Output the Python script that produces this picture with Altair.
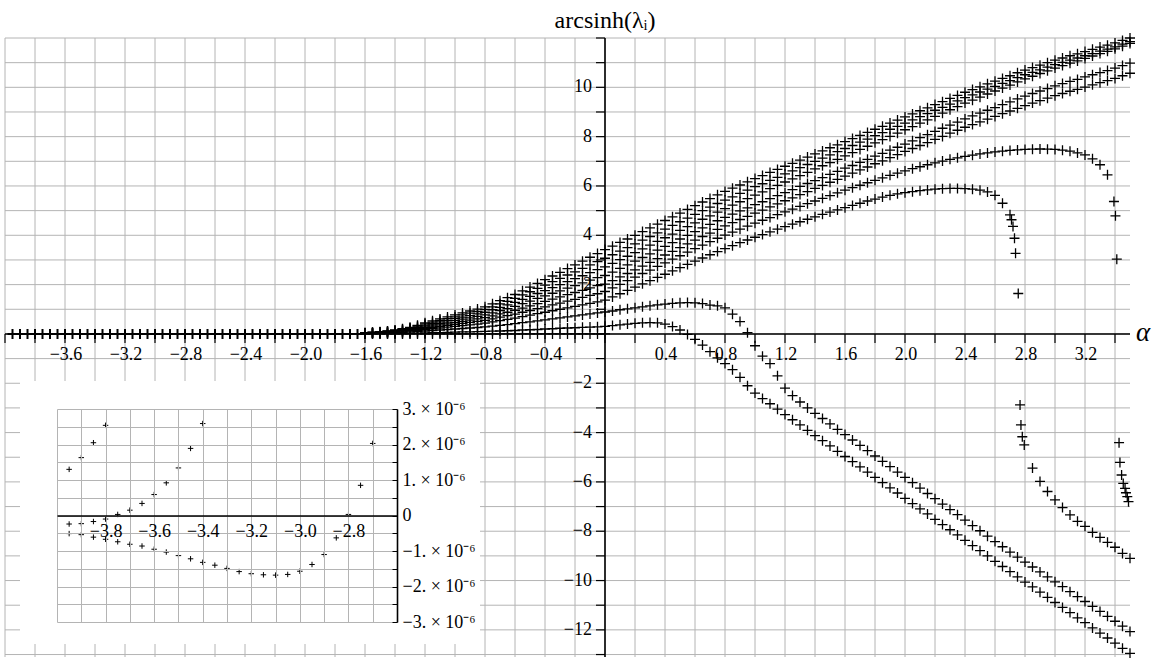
import altair as alt
import pandas as pd

# ---------------------------------------------------------------- main data
# sampling grid for the fanning-out part of the spectrum
ALPHA = [
    -1.60, -1.55, -1.50, -1.45, -1.40, -1.35, -1.30, -1.25, -1.20, -1.15,
    -1.10, -1.05, -1.00, -0.95, -0.90, -0.85, -0.80, -0.75, -0.70, -0.65,
    -0.60, -0.55, -0.50, -0.45, -0.40, -0.35, -0.30, -0.25, -0.20, -0.15,
    -0.10, -0.05, 0.00, 0.05, 0.10, 0.15, 0.20, 0.25, 0.30, 0.35,
    0.40, 0.45, 0.50, 0.55, 0.60, 0.65, 0.70, 0.75, 0.80, 0.85,
    0.90, 0.95, 1.00, 1.05, 1.10, 1.15, 1.20, 1.25, 1.30, 1.35,
    1.40, 1.45, 1.50, 1.55, 1.60, 1.65, 1.70, 1.75, 1.80, 1.85,
    1.90, 1.95, 2.00, 2.05, 2.10, 2.15, 2.20, 2.25, 2.30, 2.35,
    2.40, 2.45, 2.50, 2.55, 2.60, 2.65, 2.70, 2.75, 2.80, 2.85,
    2.90, 2.95, 3.00, 3.05, 3.10, 3.15, 3.20, 3.25, 3.30, 3.35,
    3.40, 3.45, 3.50,
]

# upper trio of growing branches
LAMBDA_1 = [
    0.05, 0.07, 0.09, 0.12, 0.16, 0.21, 0.27, 0.35, 0.45, 0.53,
    0.61, 0.69, 0.77, 0.85, 0.93, 1.01, 1.10, 1.22, 1.35, 1.47,
    1.60, 1.75, 1.90, 2.05, 2.20, 2.35, 2.50, 2.65, 2.80, 2.95,
    3.11, 3.26, 3.42, 3.56, 3.71, 3.85, 4.00, 4.15, 4.30, 4.45,
    4.60, 4.75, 4.90, 5.05, 5.20, 5.35, 5.49, 5.64, 5.78, 5.91,
    6.04, 6.17, 6.30, 6.42, 6.55, 6.67, 6.80, 6.92, 7.05, 7.17,
    7.30, 7.42, 7.55, 7.67, 7.80, 7.92, 8.05, 8.17, 8.30, 8.42,
    8.55, 8.67, 8.80, 8.92, 9.05, 9.17, 9.30, 9.42, 9.55, 9.67,
    9.80, 9.91, 10.02, 10.14, 10.25, 10.36, 10.47, 10.59, 10.70, 10.80,
    10.90, 11.00, 11.10, 11.19, 11.28, 11.36, 11.45, 11.54, 11.63, 11.71,
    11.80, 11.90, 12.00,
]
LAMBDA_2 = [
    0.05, 0.06, 0.08, 0.11, 0.14, 0.19, 0.24, 0.32, 0.41, 0.48,
    0.55, 0.62, 0.69, 0.77, 0.84, 0.91, 0.99, 1.10, 1.22, 1.32,
    1.44, 1.58, 1.71, 1.85, 1.98, 2.12, 2.25, 2.39, 2.52, 2.66,
    2.80, 2.93, 3.07, 3.21, 3.36, 3.50, 3.65, 3.80, 3.95, 4.10,
    4.25, 4.40, 4.55, 4.70, 4.85, 5.00, 5.14, 5.29, 5.43, 5.56,
    5.70, 5.83, 5.97, 6.09, 6.23, 6.35, 6.49, 6.61, 6.74, 6.87,
    7.00, 7.13, 7.26, 7.39, 7.52, 7.64, 7.78, 7.90, 8.04, 8.16,
    8.30, 8.42, 8.55, 8.68, 8.81, 8.93, 9.07, 9.19, 9.32, 9.45,
    9.58, 9.69, 9.81, 9.93, 10.04, 10.16, 10.27, 10.39, 10.51, 10.61,
    10.71, 10.82, 10.92, 11.01, 11.10, 11.19, 11.28, 11.37, 11.47, 11.55,
    11.64, 11.75, 11.85,
]
LAMBDA_3 = [
    0.04, 0.06, 0.07, 0.10, 0.13, 0.17, 0.22, 0.28, 0.36, 0.42,
    0.49, 0.55, 0.62, 0.68, 0.74, 0.81, 0.88, 0.98, 1.08, 1.18,
    1.28, 1.40, 1.52, 1.64, 1.76, 1.88, 2.00, 2.12, 2.24, 2.36,
    2.49, 2.61, 2.72, 2.86, 3.01, 3.15, 3.30, 3.45, 3.60, 3.75,
    3.90, 4.05, 4.20, 4.35, 4.50, 4.65, 4.79, 4.94, 5.08, 5.22,
    5.36, 5.49, 5.63, 5.76, 5.89, 6.02, 6.16, 6.29, 6.42, 6.55,
    6.69, 6.82, 6.95, 7.08, 7.22, 7.35, 7.48, 7.61, 7.75, 7.88,
    8.01, 8.14, 8.28, 8.41, 8.55, 8.68, 8.82, 8.95, 9.09, 9.22,
    9.36, 9.48, 9.60, 9.73, 9.85, 9.97, 10.09, 10.22, 10.34, 10.45,
    10.56, 10.67, 10.78, 10.88, 10.98, 11.07, 11.17, 11.27, 11.37, 11.46,
    11.56, 11.67, 11.78,
]
# lower pair of growing branches
LAMBDA_4 = [
    0.04, 0.05, 0.06, 0.08, 0.11, 0.15, 0.19, 0.25, 0.32, 0.37,
    0.43, 0.48, 0.54, 0.60, 0.65, 0.71, 0.77, 0.85, 0.95, 1.03,
    1.12, 1.23, 1.33, 1.44, 1.54, 1.65, 1.75, 1.86, 1.96, 2.07,
    2.18, 2.28, 2.37, 2.51, 2.66, 2.80, 2.95, 3.10, 3.25, 3.40,
    3.55, 3.70, 3.85, 4.00, 4.15, 4.30, 4.44, 4.59, 4.73, 4.86,
    4.99, 5.11, 5.24, 5.36, 5.49, 5.61, 5.73, 5.85, 5.98, 6.10,
    6.22, 6.34, 6.47, 6.59, 6.72, 6.83, 6.96, 7.08, 7.21, 7.32,
    7.45, 7.57, 7.70, 7.83, 7.96, 8.08, 8.21, 8.34, 8.47, 8.59,
    8.72, 8.84, 8.95, 9.07, 9.18, 9.30, 9.41, 9.53, 9.64, 9.75,
    9.85, 9.95, 10.06, 10.15, 10.24, 10.32, 10.42, 10.51, 10.60, 10.68,
    10.78, 10.88, 10.98,
]
LAMBDA_5 = [
    0.03, 0.04, 0.05, 0.07, 0.10, 0.13, 0.16, 0.21, 0.27, 0.32,
    0.37, 0.41, 0.46, 0.51, 0.56, 0.61, 0.66, 0.73, 0.81, 0.88,
    0.96, 1.05, 1.14, 1.23, 1.32, 1.41, 1.50, 1.59, 1.68, 1.77,
    1.87, 1.96, 2.02, 2.16, 2.31, 2.45, 2.60, 2.75, 2.90, 3.05,
    3.20, 3.35, 3.50, 3.65, 3.80, 3.95, 4.09, 4.24, 4.38, 4.51,
    4.64, 4.77, 4.90, 5.02, 5.15, 5.27, 5.40, 5.52, 5.65, 5.77,
    5.90, 6.02, 6.15, 6.27, 6.40, 6.52, 6.65, 6.77, 6.90, 7.02,
    7.15, 7.27, 7.40, 7.52, 7.64, 7.76, 7.89, 8.01, 8.14, 8.26,
    8.38, 8.49, 8.60, 8.71, 8.82, 8.93, 9.04, 9.15, 9.26, 9.36,
    9.46, 9.56, 9.66, 9.75, 9.84, 9.92, 10.01, 10.10, 10.19, 10.27,
    10.36, 10.47, 10.57,
]
# branch that peaks near 7.5 and then plunges through zero
LAMBDA_6 = [
    0.03, 0.04, 0.05, 0.06, 0.08, 0.11, 0.14, 0.18, 0.23, 0.27,
    0.31, 0.35, 0.39, 0.43, 0.47, 0.51, 0.55, 0.61, 0.68, 0.74,
    0.80, 0.88, 0.95, 1.03, 1.10, 1.18, 1.25, 1.33, 1.40, 1.48,
    1.56, 1.63, 1.72, 1.87, 2.01, 2.16, 2.30, 2.45, 2.59, 2.74,
    2.88, 3.03, 3.17, 3.32, 3.46, 3.60, 3.74, 3.88, 4.01, 4.13,
    4.25, 4.37, 4.49, 4.61, 4.72, 4.84, 4.95, 5.06, 5.17, 5.28,
    5.39, 5.50, 5.61, 5.72, 5.83, 5.93, 6.03, 6.13, 6.23, 6.33,
    6.43, 6.52, 6.61, 6.70, 6.78, 6.86, 6.94, 7.01, 7.08, 7.14,
    7.20, 7.25, 7.30, 7.34, 7.38, 7.41, 7.44, 7.46, 7.48, 7.49,
    7.50, 7.49, 7.48, 7.45, 7.41, 7.34, 7.26, 7.10, 6.86, 6.45,
    None, None, None,
]
LAMBDA_6_STEEP_ALPHA = [3.393, 3.403, 3.412, 3.427, 3.433, 3.444, 3.455, 3.467, 3.473, 3.482, 3.490]
LAMBDA_6_STEEP_VALUE = [5.37, 4.79, 3.03, -4.41, -5.21, -5.72, -6.06, -6.26, -6.44, -6.60, -6.80]

# branch that peaks near 5.9 and then plunges through zero
LAMBDA_7 = [
    0.02, 0.03, 0.04, 0.05, 0.06, 0.08, 0.11, 0.14, 0.18, 0.21,
    0.24, 0.28, 0.31, 0.34, 0.37, 0.40, 0.44, 0.49, 0.54, 0.59,
    0.64, 0.70, 0.76, 0.82, 0.88, 0.94, 1.00, 1.06, 1.12, 1.18,
    1.24, 1.30, 1.37, 1.50, 1.63, 1.77, 1.90, 2.03, 2.16, 2.29,
    2.42, 2.56, 2.69, 2.82, 2.95, 3.08, 3.21, 3.34, 3.46, 3.58,
    3.70, 3.81, 3.92, 4.03, 4.14, 4.25, 4.35, 4.45, 4.55, 4.65,
    4.75, 4.85, 4.94, 5.03, 5.12, 5.21, 5.30, 5.39, 5.47, 5.55,
    5.62, 5.68, 5.73, 5.77, 5.81, 5.84, 5.87, 5.89, 5.90, 5.90,
    5.89, 5.87, 5.83, 5.76, 5.62, 5.30, 4.83, None, None, -5.44,
    -5.98, -6.39, -6.73, -7.04, -7.34, -7.60, -7.80, -8.05, -8.25, -8.45,
    -8.65, -8.90, -9.10,
]
LAMBDA_7_STEEP_ALPHA = [2.710, 2.720, 2.730, 2.737, 2.755, 2.767, 2.773, 2.782, 2.795]
LAMBDA_7_STEEP_VALUE = [4.63, 4.36, 3.88, 3.27, 1.64, -2.88, -3.69, -4.17, -4.50]

# the two small bumps that turn negative
LAMBDA_8 = [
    0.01, 0.02, 0.02, 0.03, 0.04, 0.05, 0.07, 0.09, 0.12, 0.14,
    0.16, 0.18, 0.20, 0.22, 0.24, 0.26, 0.29, 0.32, 0.35, 0.38,
    0.42, 0.46, 0.49, 0.53, 0.57, 0.61, 0.65, 0.69, 0.73, 0.77,
    0.81, 0.85, 0.89, 0.93, 0.98, 1.02, 1.06, 1.10, 1.14, 1.18,
    1.21, 1.24, 1.26, 1.27, 1.26, 1.23, 1.17, 1.14, 1.06, 0.80,
    0.50, 0.05, -0.48, -0.90, -1.20, -1.70, -2.20, -2.50, -2.76, -3.00,
    -3.22, -3.43, -3.65, -3.87, -4.08, -4.30, -4.52, -4.73, -4.95, -5.17,
    -5.38, -5.60, -5.82, -6.03, -6.25, -6.47, -6.68, -6.90, -7.12, -7.33,
    -7.55, -7.77, -7.98, -8.20, -8.42, -8.63, -8.85, -9.05, -9.25, -9.45,
    -9.65, -9.85, -10.05, -10.25, -10.45, -10.65, -10.85, -11.05, -11.25, -11.45,
    -11.65, -11.85, -12.07,
]
LAMBDA_9 = [
    0.00, 0.01, 0.01, 0.01, 0.01, 0.02, 0.02, 0.03, 0.04, 0.05,
    0.05, 0.06, 0.07, 0.08, 0.08, 0.09, 0.10, 0.11, 0.12, 0.13,
    0.14, 0.16, 0.17, 0.18, 0.20, 0.21, 0.23, 0.24, 0.25, 0.27,
    0.28, 0.29, 0.31, 0.34, 0.37, 0.40, 0.43, 0.45, 0.46, 0.45,
    0.40, 0.30, 0.16, -0.02, -0.22, -0.45, -0.72, -0.97, -1.20, -1.45,
    -1.76, -2.10, -2.40, -2.62, -2.83, -3.05, -3.27, -3.48, -3.69, -3.91,
    -4.12, -4.33, -4.54, -4.76, -4.97, -5.18, -5.39, -5.60, -5.82, -6.03,
    -6.24, -6.45, -6.67, -6.88, -7.09, -7.30, -7.52, -7.73, -7.94, -8.15,
    -8.37, -8.58, -8.79, -9.00, -9.22, -9.43, -9.64, -9.85, -10.06, -10.26,
    -10.47, -10.68, -10.89, -11.09, -11.30, -11.51, -11.71, -11.92, -12.13, -12.33,
    -12.54, -12.75, -12.95,
]

# left part, where every eigenvalue sits on zero at this scale (many coincide)
FLAT_ALPHA = [
    -3.95, -3.90, -3.85, -3.80, -3.75, -3.70, -3.65, -3.60, -3.55, -3.50,
    -3.45, -3.40, -3.35, -3.30, -3.25, -3.20, -3.15, -3.10, -3.05, -3.00,
    -2.95, -2.90, -2.85, -2.80, -2.75, -2.70, -2.65, -2.60, -2.55, -2.50,
    -2.45, -2.40, -2.35, -2.30, -2.25, -2.20, -2.15, -2.10, -2.05, -2.00,
    -1.95, -1.90, -1.85, -1.80, -1.75, -1.70, -1.65,
]
FLAT_VALUE = [
    0.0, 0.0, 0.0, 0.0, 0.0, 0.0, 0.0, 0.0, 0.0, 0.0,
    0.0, 0.0, 0.0, 0.0, 0.0, 0.0, 0.0, 0.0, 0.0, 0.0,
    0.0, 0.0, 0.0, 0.0, 0.0, 0.0, 0.0, 0.0, 0.0, 0.0,
    0.0, 0.0, 0.0, 0.0, 0.0, 0.0, 0.0, 0.0, 0.0, 0.0,
    0.0, 0.0, 0.0, 0.0, 0.0, 0.0, 0.0,
]
# the eigenvalues that stay near zero further right
NEAR_ZERO_ALPHA = [
    -1.60, -1.55, -1.50, -1.45, -1.40, -1.35, -1.30, -1.25, -1.20, -1.15,
    -1.10, -1.05, -1.00, -0.95, -0.90, -0.85, -0.80, -0.75, -0.70, -0.65,
    -0.60, -0.55, -0.50, -0.45, -0.40, -0.35, -0.30, -0.25, -0.20, -0.15,
    -0.10, -0.05, 0.00,
]
NEAR_ZERO_VALUE = [
    0.0, 0.0, 0.0, 0.0, 0.0, 0.0, 0.0, 0.0, 0.0, 0.0,
    0.0, 0.0, 0.0, 0.0, 0.0, 0.0, 0.0, 0.0, 0.0, 0.0,
    0.0, 0.0, 0.0, 0.0, 0.0, 0.0, 0.0, 0.0, 0.0, 0.0,
    0.0, 0.0, 0.0,
]

# ---------------------------------------------------------------- inset data
INSET_ALPHA = [
    -3.95, -3.90, -3.85, -3.80, -3.75, -3.70, -3.65, -3.60, -3.55, -3.50,
    -3.45, -3.40, -3.35, -3.30, -3.25, -3.20, -3.15, -3.10, -3.05, -3.00,
    -2.95, -2.90, -2.85, -2.80, -2.75, -2.70,
]
INSET_LOWER = [
    -0.51e-6, -0.54e-6, -0.61e-6, -0.67e-6, -0.74e-6, -0.81e-6, -0.86e-6, -0.95e-6,
    -1.03e-6, -1.13e-6, -1.22e-6, -1.32e-6, -1.40e-6, -1.49e-6, -1.58e-6, -1.64e-6,
    -1.67e-6, -1.68e-6, -1.66e-6, -1.57e-6, -1.38e-6, -1.10e-6, -0.63e-6, 0.03e-6,
    0.85e-6, 2.03e-6,
]
INSET_MIDDLE = [
    -0.24e-6, -0.23e-6, -0.17e-6, -0.10e-6, 0.03e-6, 0.15e-6, 0.34e-6, 0.59e-6,
    0.92e-6, 1.34e-6, 1.89e-6, 2.59e-6,
]
INSET_UPPER = [1.30e-6, 1.63e-6, 2.05e-6, 2.54e-6]

# ---------------------------------------------------------------- ticks and labels
X_TICKS = [-4.0, -3.8, -3.6, -3.4, -3.2, -3.0, -2.8, -2.6, -2.4, -2.2, -2.0, -1.8,
           -1.6, -1.4, -1.2, -1.0, -0.8, -0.6, -0.4, -0.2, 0.0, 0.2, 0.4, 0.6,
           0.8, 1.0, 1.2, 1.4, 1.6, 1.8, 2.0, 2.2, 2.4, 2.6, 2.8, 3.0, 3.2, 3.4]
X_LABELS = [-3.6, -3.2, -2.8, -2.4, -2.0, -1.6, -1.2, -0.8, -0.4,
            0.4, 0.8, 1.2, 1.6, 2.0, 2.4, 2.8, 3.2]
Y_TICKS = [-13, -12, -11, -10, -9, -8, -7, -6, -5, -4, -3, -2, -1, 0,
           1, 2, 3, 4, 5, 6, 7, 8, 9, 10, 11, 12]
Y_LABELS = [-12, -10, -8, -6, -4, -2, 2, 4, 6, 8, 10]
INSET_X_TICKS = [-4.0, -3.9, -3.8, -3.7, -3.6, -3.5, -3.4, -3.3, -3.2, -3.1, -3.0,
                 -2.9, -2.8, -2.7, -2.6]
INSET_Y_TICKS = [-3.0e-6, -2.5e-6, -2.0e-6, -1.5e-6, -1.0e-6, -0.5e-6, 0.0,
                 0.5e-6, 1.0e-6, 1.5e-6, 2.0e-6, 2.5e-6, 3.0e-6]

# ---------------------------------------------------------------- tables
curves = [LAMBDA_1, LAMBDA_2, LAMBDA_3, LAMBDA_4, LAMBDA_5,
          LAMBDA_6, LAMBDA_7, LAMBDA_8, LAMBDA_9]
rows = []
for k, vals in enumerate(curves, start=1):
    assert len(vals) == len(ALPHA), (k, len(vals))
    for a, v in zip(ALPHA, vals):
        if v is not None:
            rows.append({"alpha": a, "value": v, "sw": 1.3})
for a, v in zip(LAMBDA_6_STEEP_ALPHA, LAMBDA_6_STEEP_VALUE):
    rows.append({"alpha": a, "value": v, "sw": 1.3})
for a, v in zip(LAMBDA_7_STEEP_ALPHA, LAMBDA_7_STEEP_VALUE):
    rows.append({"alpha": a, "value": v, "sw": 1.3})
for a, v in zip(NEAR_ZERO_ALPHA, NEAR_ZERO_VALUE):
    rows.append({"alpha": a, "value": v, "sw": 1.3})
for a, v in zip(FLAT_ALPHA, FLAT_VALUE):
    rows.append({"alpha": a, "value": v, "sw": 2.0})
main_df = pd.DataFrame(rows)

inset_rows = []
for series in (INSET_LOWER, INSET_MIDDLE, INSET_UPPER):
    for a, v in zip(INSET_ALPHA, series):
        inset_rows.append({"alpha": a, "value": v})
inset_df = pd.DataFrame(inset_rows)

origin_df = pd.DataFrame({"z": [0.0]})
xt_df = pd.DataFrame({"t": X_TICKS, "z": 0.0})
yt_df = pd.DataFrame({"t": Y_TICKS, "z": 0.0})
xl_df = pd.DataFrame({"t": X_LABELS, "z": 0.0})
yl_df = pd.DataFrame({"t": Y_LABELS, "z": 0.0})

# ---------------------------------------------------------------- styling
FONT = "Liberation Serif, Times New Roman, serif"
GRID = "#b4b4b4"
PLUS = "M-1,0H1M0,-1V1"
TICK = 9
LABEL_SIZE = 18

W, H = 1125, 619
X_DOMAIN = [-4.0, 3.5]
Y_DOMAIN = [-13.1, 12.0]
x0 = (0 - X_DOMAIN[0]) / (X_DOMAIN[1] - X_DOMAIN[0]) * W   # pixel column of alpha = 0
y0 = (Y_DOMAIN[1] - 0) / (Y_DOMAIN[1] - Y_DOMAIN[0]) * H   # pixel row of value = 0

XS = alt.Scale(domain=X_DOMAIN, nice=False, zero=False)
YS = alt.Scale(domain=Y_DOMAIN, nice=False, zero=False)


def xq(field):
    return alt.X(field, type="quantitative", scale=XS, axis=None)


def yq(field):
    return alt.Y(field, type="quantitative", scale=YS, axis=None)


# grid
x_grid = alt.Chart(xt_df).mark_rule(color=GRID, strokeWidth=1).encode(
    x=xq("t"), y=alt.value(0), y2=alt.value(H)
)
y_grid = alt.Chart(yt_df).mark_rule(color=GRID, strokeWidth=1).encode(
    y=yq("t"), x=alt.value(0), x2=alt.value(W)
)
# axes crossing at the origin
x_line = alt.Chart(origin_df).mark_rule(color="black", strokeWidth=1.6).encode(
    y=yq("z"), x=alt.value(0), x2=alt.value(W)
)
y_line = alt.Chart(origin_df).mark_rule(color="black", strokeWidth=1.6).encode(
    x=xq("z"), y=alt.value(0), y2=alt.value(H)
)
x_ticks = alt.Chart(xt_df).mark_rule(color="black", strokeWidth=1.2).encode(
    x=xq("t"), y=yq("z"), y2=alt.value(y0 + TICK)
)
y_ticks = alt.Chart(yt_df).mark_rule(color="black", strokeWidth=1.2).encode(
    y=yq("t"), x=xq("z"), x2=alt.value(x0 - TICK)
)
x_labels = alt.Chart(xl_df).mark_text(
    baseline="top", align="center", dy=TICK + 3, dx=1,
    font=FONT, fontSize=LABEL_SIZE, color="black",
).encode(x=xq("t"), y=yq("z"), text=alt.Text("t:Q", format=".1f"))
y_labels = alt.Chart(yl_df).mark_text(
    baseline="middle", align="right", dx=-(TICK + 4),
    font=FONT, fontSize=LABEL_SIZE, color="black",
).encode(x=xq("z"), y=yq("t"), text=alt.Text("t:Q", format="d"))

y_title = alt.Chart(origin_df).mark_text(
    text="arcsinh(λᵢ)", baseline="alphabetic", align="center",
    font=FONT, fontSize=24, color="black",
).encode(x=xq("z"), y=alt.value(-10))
x_title = alt.Chart(origin_df).mark_text(
    text="α", baseline="middle", align="left", dy=-1,
    font=FONT, fontSize=27, fontStyle="italic", color="black",
).encode(x=alt.value(W + 6), y=yq("z"))

points = alt.Chart(main_df).mark_point(
    shape=PLUS, filled=False, size=100, color="black", opacity=1
).encode(
    x=xq("alpha"),
    y=yq("value"),
    strokeWidth=alt.StrokeWidth("sw:Q", scale=None, legend=None),
)

main = alt.layer(x_grid, y_grid, x_line, y_line, x_ticks, y_ticks,
                 x_labels, y_labels, y_title, x_title, points)

# ---------------------------------------------------------------- inset panel
IX_RANGE = [52, 392]    # plot-area pixels of the inset's alpha span
IY_RANGE = [584, 371]   # plot-area pixels of the inset's value span

inset_x_axis = alt.Axis(
    orient="top", offset=-(IY_RANGE[0] + IY_RANGE[1]) / 2, values=INSET_X_TICKS,
    grid=True, gridColor=GRID, gridWidth=1, zindex=1,
    domainColor="black", domainWidth=1.6, ticks=False,
    labelExpr="datum.value > -3.95 && datum.value < -2.65 && abs(round(datum.value * 10)) % 2 == 0 ? format(datum.value, '.1f') : ''",
    labelFont=FONT, labelFontSize=LABEL_SIZE, labelColor="black",
    labelBaseline="top", labelPadding=-7, labelFlush=False, labelOverlap=False,
    title="",
)
inset_y_axis = alt.Axis(
    orient="left", offset=-IX_RANGE[1], values=INSET_Y_TICKS,
    grid=True, gridColor=GRID, gridWidth=1, zindex=1,
    domainColor="black", domainWidth=1.6,
    tickColor="black", tickSize=5, tickWidth=1,
    labelExpr="abs(round(datum.value * 2e6)) % 2 == 0 ? (round(datum.value * 1e6) == 0 ? '0' : format(round(datum.value * 1e6), 'd') + '. × 10⁻⁶') : ''",
    labelFont=FONT, labelFontSize=LABEL_SIZE, labelColor="black",
    labelAlign="left", labelBaseline="middle", labelPadding=-10,
    labelFlush=False, labelOverlap=False,
    title="",
)

# white panel that hides the main grid behind the inset
inset_bg = alt.Chart(alt.Data(values=[{}])).mark_rect(color="white").encode(
    x=alt.value(15), x2=alt.value(475), y=alt.value(343), y2=alt.value(606)
)
inset_points = alt.Chart(inset_df).mark_point(
    shape=PLUS, filled=False, size=30, strokeWidth=1, color="black", opacity=1
).encode(
    x=alt.X("alpha:Q", scale=alt.Scale(domain=[-4.0, -2.6], range=IX_RANGE, nice=False, zero=False),
            axis=inset_x_axis),
    y=alt.Y("value:Q", scale=alt.Scale(domain=[-3e-6, 3e-6], range=IY_RANGE, nice=False, zero=False),
            axis=inset_y_axis),
)
inset = alt.layer(inset_bg, inset_points)

chart = (
    alt.layer(main, inset)
    .resolve_scale(x="independent", y="independent")
    .properties(
        width=W, height=H, autosize="none", background="white",
        padding={"left": 5, "top": 38, "right": 24, "bottom": 1},
    )
    .configure_view(stroke=None)
)

chart.save("out.html", embed_options={"renderer": "svg", "actions": False})
